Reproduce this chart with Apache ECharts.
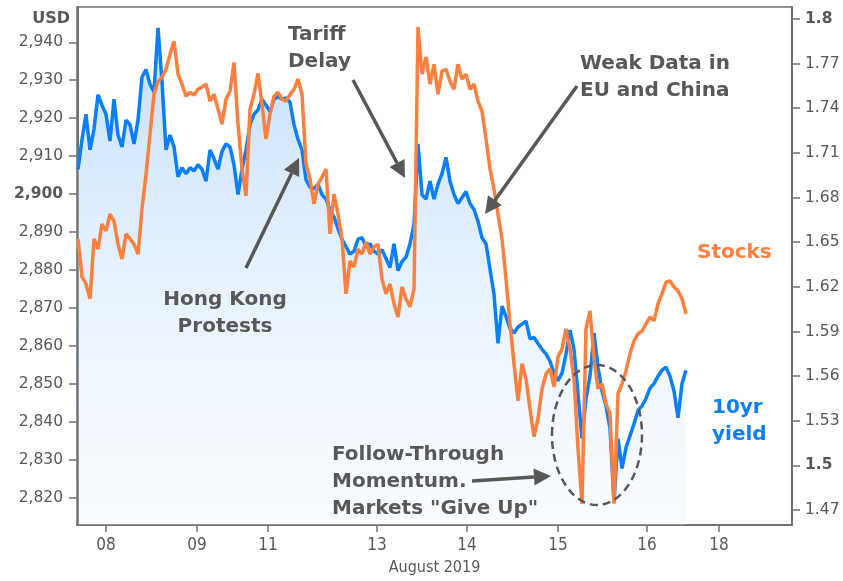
<!DOCTYPE html>
<html>
<head>
<meta charset="utf-8">
<script src="https://cdn.jsdelivr.net/npm/echarts@6/dist/echarts.min.js"></script>
<style>
html,body{margin:0;padding:0;background:#fff;}
#chart{width:843px;height:581px;}
</style>
</head>
<body>
<div id="chart"></div>
<script>
// ---- data ----
const xTickPos = [7, 29.75, 47.5, 74.75, 97.25, 120, 142.25, 160.25];
const xTickLabels = ['08', '09', '11', '13', '14', '15', '16', '18'];
const stockTicks = [2820, 2830, 2840, 2850, 2860, 2870, 2880, 2890, 2900, 2910, 2920, 2930, 2940];
const yieldTicks = [1.47, 1.5, 1.53, 1.56, 1.59, 1.62, 1.65, 1.68, 1.71, 1.74, 1.77, 1.8];
const stocks = [
 2888.2,2878.2,2876.3,2872.4,2888.2,2885.5,2892.1,2890.3,2894.7,2892.9,
 2886.8,2882.9,2889.5,2888.2,2886.8,2884.2,2896.1,2905.3,2915.8,2926.3,
 2929.7,2930.8,2932.9,2936.8,2940.3,2931.6,2929.0,2925.8,2926.8,2926.1,
 2927.6,2928.2,2929.0,2924.5,2926.3,2922.4,2918.4,2925.0,2927.1,2934.7,
 2918.4,2906.6,2899.5,2922.4,2926.3,2931.8,2923.7,2914.5,2921.1,2925.8,
 2926.8,2925.0,2924.5,2926.3,2927.6,2930.3,2926.3,2907.9,2904.0,2897.4,
 2902.6,2904.5,2906.6,2889.5,2900.0,2894.7,2888.2,2873.7,2882.4,2880.8,
 2885.5,2884.2,2887.4,2884.2,2886.1,2886.8,2877.6,2873.7,2876.3,2871.1,
 2867.6,2875.5,2872.4,2870.3,2875.0,2944.0,2931.6,2936.1,2929.0,2934.2,
 2926.3,2932.4,2932.9,2929.7,2927.6,2934.2,2930.3,2931.6,2927.6,2929.0,
 2924.5,2921.8,2914.5,2906.6,2901.3,2894.7,2888.2,2877.6,2865.8,2855.3,
 2845.5,2855.3,2851.3,2843.4,2836.1,2840.8,2848.7,2852.6,2854.0,2849.2,
 2857.1,2859.2,2864.5,2859.2,2851.3,2832.9,2818.4,2864.5,2869.2,2856.6,
 2848.7,2850.0,2844.7,2842.1,2818.4,2847.4,2850.0,2853.4,2857.9,2861.3,
 2863.2,2863.9,2865.8,2867.6,2866.6,2871.1,2873.7,2876.8,2877.1,2875.5,
 2874.5,2872.4,2868.4
];
const yield10 = [
 1.699,1.719,1.736,1.712,1.726,1.749,1.742,1.736,1.718,1.746,
 1.722,1.714,1.732,1.729,1.716,1.732,1.761,1.766,1.756,1.751,
 1.794,1.758,1.712,1.722,1.714,1.694,1.700,1.696,1.700,1.698,
 1.702,1.699,1.691,1.712,1.706,1.699,1.711,1.716,1.714,1.702,
 1.682,1.699,1.712,1.729,1.736,1.739,1.746,1.742,1.738,1.746,
 1.748,1.746,1.747,1.744,1.729,1.719,1.712,1.692,1.687,1.686,
 1.689,1.682,1.679,1.672,1.667,1.659,1.652,1.647,1.642,1.644,
 1.652,1.653,1.647,1.649,1.644,1.642,1.645,1.639,1.633,1.649,
 1.631,1.637,1.640,1.649,1.662,1.716,1.682,1.679,1.691,1.679,
 1.689,1.696,1.707,1.691,1.682,1.676,1.680,1.684,1.676,1.672,
 1.664,1.653,1.649,1.632,1.615,1.582,1.607,1.600,1.592,1.589,
 1.593,1.595,1.597,1.585,1.586,1.582,1.578,1.575,1.570,1.562,
 1.557,1.562,1.575,1.591,1.578,1.548,1.518,1.545,1.560,1.589,
 1.566,1.550,1.540,1.525,1.475,1.518,1.498,1.512,1.520,1.528,
 1.537,1.540,1.545,1.552,1.555,1.560,1.564,1.566,1.560,1.550,
 1.532,1.555,1.564
];

// ---- styles ----
const GRAY = '#585858';
const ORANGE = '#ff7f3e';
const BLUE = '#0a7ffb';
const AXIS = '#707070';
const FONT = "'DejaVu Sans', Verdana, sans-serif";
const NARROW = "'Liberation Sans Narrow', 'DejaVu Sans Condensed', 'Roboto', sans-serif";

function arrow(x1, y1, x2, y2) {
  const dx = x2 - x1, dy = y2 - y1;
  const len = Math.sqrt(dx * dx + dy * dy);
  const ux = dx / len, uy = dy / len;
  const L = 17, W = 8.5;
  const bx = x2 - ux * L, by = y2 - uy * L;
  return [
    { type: 'line', shape: { x1: x1, y1: y1, x2: bx, y2: by }, style: { stroke: GRAY, lineWidth: 3.5 }, z: 100 },
    { type: 'polygon', shape: { points: [[x2, y2], [bx - uy * W, by + ux * W], [bx + uy * W, by - ux * W]] }, style: { fill: GRAY }, z: 100 }
  ];
}
function label(text, x, y, align, color, size) {
  return {
    type: 'text', z: 100,
    style: {
      text: text, x: x, y: y, fill: color || GRAY,
      fontSize: size || 20, fontWeight: 'bold', fontFamily: FONT,
      align: align || 'left', verticalAlign: 'middle', lineHeight: 27
    }
  };
}

const chart = echarts.init(document.getElementById('chart'), null, { renderer: 'canvas' });
const option = {
  animation: false,
  backgroundColor: '#ffffff',
  grid: { left: 77, right: 51, top: 7, bottom: 54, show: true, borderColor: AXIS, borderWidth: 1.5, containLabel: false },
  xAxis: {
    type: 'value', min: -0.25, max: 178.5,
    name: 'August 2019', nameLocation: 'middle', nameGap: 35,
    nameTextStyle: { color: GRAY, fontSize: 16, fontFamily: NARROW },
    axisLine: { show: true, lineStyle: { color: AXIS, width: 2 } },
    axisTick: { show: true, length: 7, lineStyle: { color: AXIS, width: 1.5 }, customValues: xTickPos },
    axisLabel: {
      color: GRAY, fontSize: 17, fontFamily: NARROW, margin: 12,
      customValues: xTickPos,
      formatter: function (v) { const k = xTickPos.indexOf(v); return k >= 0 ? xTickLabels[k] : ''; }
    },
    splitLine: { show: false }
  },
  yAxis: [
    {
      type: 'value', position: 'left', min: 2812.8, max: 2949.3,
      axisLine: { show: true, lineStyle: { color: AXIS, width: 2 } },
      axisTick: { show: true, length: 9, lineStyle: { color: AXIS, width: 1.5 }, customValues: stockTicks },
      axisLabel: {
        color: GRAY, fontSize: 15.5, fontFamily: FONT, margin: 14,
        customValues: stockTicks,
        formatter: function (v) {
          const s = Math.round(v).toLocaleString('en-US');
          return Math.round(v) === 2900 ? '{b|' + s + '}' : s;
        },
        rich: { b: { fontWeight: 'bold', color: GRAY, fontSize: 15.5, fontFamily: FONT } }
      },
      splitLine: { show: false }
    },
    {
      type: 'value', position: 'right', min: 1.460, max: 1.808,
      axisLine: { show: true, lineStyle: { color: AXIS, width: 2 } },
      axisTick: { show: true, length: 8, lineStyle: { color: AXIS, width: 1.5 }, customValues: yieldTicks },
      axisLabel: {
        color: GRAY, fontSize: 15.5, fontFamily: FONT, margin: 13,
        customValues: yieldTicks,
        formatter: function (v) {
          const s = String(Math.round(v * 100) / 100);
          return (s === '1.8' || s === '1.5') ? '{b|' + s + '}' : s;
        },
        rich: { b: { fontWeight: 'bold', color: GRAY, fontSize: 15.5, fontFamily: FONT } }
      },
      splitLine: { show: false }
    }
  ],
  series: [
    {
      name: '10yr yield', type: 'line', yAxisIndex: 1, showSymbol: false, symbol: 'none',
      data: yield10.map(function (v, i) { return [i, v]; }),
      lineStyle: { color: BLUE, width: 3.5 },
      areaStyle: {
        origin: 'start',
        color: new echarts.graphic.LinearGradient(0, 0, 0, 1, [
          { offset: 0, color: 'rgba(150,198,248,0.8)' },
          { offset: 1, color: 'rgba(235,244,255,0.35)' }
        ])
      },
      z: 2
    },
    {
      name: 'Stocks', type: 'line', yAxisIndex: 0, showSymbol: false, symbol: 'none',
      data: stocks.map(function (v, i) { return [i, v]; }),
      lineStyle: { color: ORANGE, width: 3.5 },
      z: 3
    }
  ],
  graphic: [].concat(
    [label('USD', 70, 19, 'right', GRAY, 16)],
    [label('Tariff\nDelay', 288, 48, 'left')],
    [label('Weak Data in\nEU and China', 580, 77, 'left')],
    [label('Hong Kong\nProtests', 225, 313, 'center')],
    [label('Follow-Through\nMomentum.\nMarkets "Give Up"', 332, 482, 'left')],
    [label('Stocks', 697, 253, 'left', ORANGE, 20)],
    [label('10yr\nyield', 712, 421, 'left', BLUE, 20)],
    arrow(246, 268, 299, 158),
    arrow(353, 80, 405, 178),
    arrow(577, 86, 485, 214),
    arrow(472, 481, 551, 476),
    [{ type: 'ellipse', shape: { cx: 597, cy: 435, rx: 45, ry: 70 },
       style: { fill: null, stroke: GRAY, lineWidth: 2.5, lineDash: [8, 5] }, z: 100 }]
  )
};
chart.setOption(option);
</script>
</body>
</html>
